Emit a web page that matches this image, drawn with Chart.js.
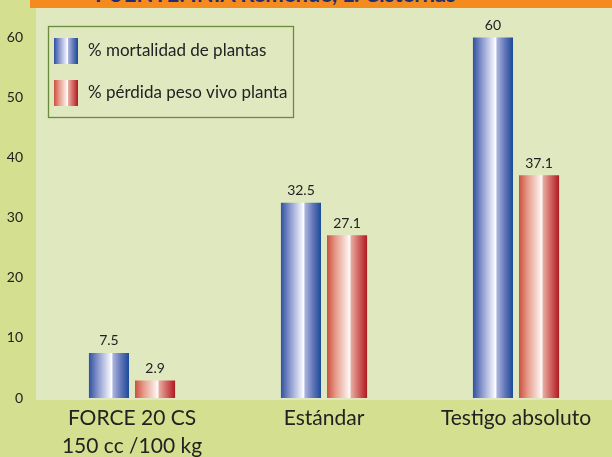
<!DOCTYPE html>
<html>
<head>
<meta charset="utf-8">
<script src="https://cdn.jsdelivr.net/npm/chart.js@4/dist/chart.umd.min.js"></script>
<style>
  html, body { margin: 0; padding: 0; }
  body { width: 612px; height: 457px; background: #d4e08f; position: relative; overflow: hidden; }
  #banner { position: absolute; left: 30px; top: 0; width: 582px; height: 8px; background: #f58a1e; overflow: hidden; }
  #banner span { position: absolute; left: 65px; bottom: 3px; font: bold 22px Lato, sans-serif; color: #1f2f6e; white-space: nowrap; line-height: 1; }
  #wrap { position: absolute; left: 0; top: 0; width: 612px; height: 457px; }
</style>
</head>
<body>
<div id="wrap"><canvas id="c" width="612" height="457"></canvas></div>
<div id="banner"><span>FUENTE: INIA Remehue, L. Cisternas</span></div>
<script>
const categories = [["FORCE 20 CS", "150 cc /100 kg"], "Estándar", "Testigo absoluto"];
const mortalidad = [7.5, 32.5, 60];
const perdidaPeso = [2.9, 27.1, 37.1];
const valueLabels = [["7.5", "32.5", "60"], ["2.9", "27.1", "37.1"]];
const seriesNames = ["% mortalidad de plantas", "% pérdida peso vivo planta"];

const blueStops = [[0, '#2e52a0'], [0.22, '#8896cc'], [0.5, '#e6eaf8'], [0.57, '#ffffff'], [0.6, '#aab4dc'], [0.8, '#6276b8'], [1, '#1a4a98']];
const redStops = [[0, '#cc5040'], [0.22, '#e69c8c'], [0.5, '#fae6e2'], [0.57, '#ffffff'], [0.6, '#e8aca2'], [0.8, '#d06060'], [1, '#b01a20']];

function grad(ctx, x0, x1, stops) {
  const g = ctx.createLinearGradient(x0, 0, x1, 0);
  stops.forEach(s => g.addColorStop(s[0], s[1]));
  return g;
}

const barStyle = {
  id: 'barStyle',
  beforeDraw(chart) {
    const { ctx, chartArea: a } = chart;
    ctx.save();
    ctx.fillStyle = '#e0e8c0';
    ctx.fillRect(a.left, 8, a.right - a.left, a.bottom - 8 + 2);
    ctx.restore();
  },
  beforeDatasetsDraw(chart) {
    const ctx = chart.ctx;
    chart.data.datasets.forEach((ds, i) => {
      const stops = i === 0 ? blueStops : redStops;
      chart.getDatasetMeta(i).data.forEach(el => {
        const x0 = el.x - el.width / 2, x1 = el.x + el.width / 2;
        el.options = Object.assign({}, el.options, { backgroundColor: grad(ctx, x0, x1, stops) });
      });
    });
  },
  afterDatasetsDraw(chart) {
    const ctx = chart.ctx;
    ctx.save();
    ctx.font = '14px Lato, sans-serif';
    ctx.fillStyle = '#222';
    ctx.textAlign = 'center';
    ctx.textBaseline = 'bottom';
    chart.data.datasets.forEach((ds, i) => {
      chart.getDatasetMeta(i).data.forEach((el, j) => {
        ctx.fillText(valueLabels[i][j], el.x, el.y - 5);
      });
    });
    // legend box
    const lx = 48, ly = 26, lw = 245, lh = 91;
    ctx.strokeStyle = '#6b8a3e';
    ctx.lineWidth = 1.3;
    ctx.strokeRect(lx + 0.5, ly + 0.5, lw, lh);
    ctx.font = '17px Lato, sans-serif';
    ctx.textAlign = 'left';
    ctx.textBaseline = 'middle';
    chart.data.datasets.forEach((ds, i) => {
      const sy = i === 0 ? 38 : 80;
      ctx.fillStyle = grad(ctx, 54, 78, i === 0 ? blueStops : redStops);
      ctx.fillRect(54, sy, 24, 26);
      ctx.fillStyle = '#222';
      ctx.fillText(ds.label, 88, sy + 13);
    });
    ctx.restore();
  }
};

new Chart(document.getElementById('c'), {
  type: 'bar',
  data: {
    labels: categories,
    datasets: [
      { label: seriesNames[0], data: mortalidad, backgroundColor: '#5068b0' },
      { label: seriesNames[1], data: perdidaPeso, backgroundColor: '#d06058' }
    ]
  },
  options: {
    responsive: false,
    animation: false,
    layout: { padding: { top: 8, right: 0, left: 0, bottom: 0 } },
    datasets: { bar: { categoryPercentage: 0.48, barPercentage: 0.87 } },
    plugins: { legend: { display: false }, tooltip: { enabled: false } },
    scales: {
      x: {
        grid: { display: false, drawTicks: false },
        border: { display: false },
        ticks: { color: '#222', font: { family: 'Lato, sans-serif', size: 21, lineHeight: 1.33 }, padding: 6, maxRotation: 0 },
        afterFit(s) { s.height = 59; }
      },
      y: {
        min: 0, max: 62.7,
        grid: { display: false, drawTicks: false },
        border: { display: false },
        ticks: { stepSize: 10, color: '#222', font: { family: 'Lato, sans-serif', size: 14 }, padding: 13 },
        afterBuildTicks(s) { s.ticks = s.ticks.filter(t => t.value % 10 === 0); },
        afterFit(s) { s.width = 36; }
      }
    }
  },
  plugins: [barStyle]
});
</script>
</body>
</html>
